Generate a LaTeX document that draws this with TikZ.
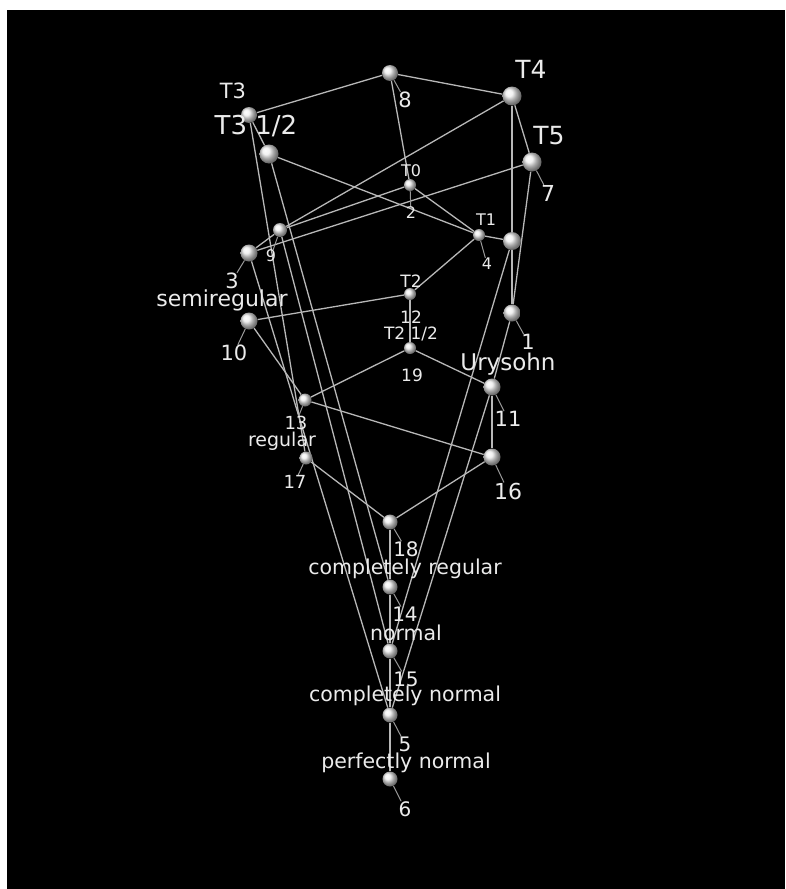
\documentclass[tikz,border=0pt]{standalone}
\usepackage{fontspec}
\setmainfont{DejaVu Sans}
\usetikzlibrary{backgrounds}
\pgfdeclarelayer{edges}
\pgfsetlayers{background,edges,main}
\begin{document}
\begin{tikzpicture}[x=1pt,y=-1pt,
  sph/.style={circle,inner sep=0pt,minimum size=#1,shading=ball,ball color=white!93!black},
  sph/.default=15,
  edge/.style={draw=black!28,line width=1.3pt},
  lead/.style={draw=black!40,line width=1pt},
  lab/.style={text=white!92!black,inner sep=0pt,font=\fontsize{#1}{#1}\selectfont},
]
\useasboundingbox (0,0) rectangle (785,889);
\begin{pgfonlayer}{background}
\fill[white] (0,0) rectangle (785,889);
\fill[black] (7,10) rectangle (785,889);
\end{pgfonlayer}

% spheres
\node[sph=16] (n8)   at (390,73) {};
\node[sph=19] (nT4)  at (512,96) {};
\node[sph=16] (nT3)  at (249,115) {};
\node[sph=19] (nT3h) at (269,154) {};
\node[sph=19] (nT5)  at (532,162) {};
\node[sph=12] (nT0)  at (410,185) {};
\node[sph=12] (nT1)  at (479,235) {};
\node[sph=18] (nX)   at (512,241) {};
\node[sph=14] (n9)   at (280,230) {};
\node[sph=17] (n3)   at (249,253) {};
\node[sph=12] (nT2)  at (410,294) {};
\node[sph=17] (n10)  at (249,321) {};
\node[sph=17] (n1)   at (512,313) {};
\node[sph=12] (nT2h) at (410,348) {};
\node[sph=17] (n11)  at (492,387) {};
\node[sph=13] (n13)  at (305,400) {};
\node[sph=13] (n17)  at (306,458) {};
\node[sph=17] (n16)  at (492,457) {};
\node[sph=15] (n18)  at (390,522) {};
\node[sph=15] (n14)  at (390,587) {};
\node[sph=15] (n15)  at (390,651) {};
\node[sph=15] (n5)   at (390,715) {};
\node[sph=15] (n6)   at (390,779) {};

% name labels
\node[lab=21] (tT3)  at (233,91) {T3};
\node[lab=26] (tT3h) at (256,126) {T3 1/2};
\node[lab=25] (tT4)  at (531,69) {T4};
\node[lab=25] (tT5)  at (549,136) {T5};
\node[lab=16] (tT0)  at (411,171) {T0};
\node[lab=16] (tT1)  at (486,220) {T1};
\node[lab=17] (tT2)  at (411,281) {T2};
\node[lab=17] (tT2h) at (411,334) {T2 1/2};
\node[lab=22] (tsemi) at (222,300) {semiregular};
\node[lab=23] (tUry) at (508,364) {Urysohn};
\node[lab=19] (treg) at (282,441) {regular};
\node[lab=20.5] (tcreg) at (405,569) {completely regular};
\node[lab=20.5] (tnorm) at (406,633) {normal};
\node[lab=20.5] (tcnorm) at (405,696) {completely normal};
\node[lab=20.5] (tpnorm) at (406,763) {perfectly normal};

% number labels
\node[lab=21] (l8)  at (405,100) {8};
\node[lab=22] (l7)  at (548,193) {7};
\node[lab=16] (l2)  at (411,213) {2};
\node[lab=16] (l4)  at (487,264) {4};
\node[lab=16] (l9)  at (271,256) {9};
\node[lab=21] (l3)  at (232,281) {3};
\node[lab=21] (l10) at (234,353) {10};
\node[lab=17] (l12) at (411,317) {12};
\node[lab=17] (l19) at (412,375) {19};
\node[lab=21] (l1)  at (528,342) {1};
\node[lab=21] (l11) at (508,419) {11};
\node[lab=18] (l13) at (296,423) {13};
\node[lab=18] (l17) at (295,482) {17};
\node[lab=22] (l16) at (508,491) {16};
\node[lab=20] (l18) at (406,549) {18};
\node[lab=20] (l14) at (405,614) {14};
\node[lab=20] (l15) at (406,679) {15};
\node[lab=20] (l5)  at (405,744) {5};
\node[lab=20] (l6)  at (405,809) {6};

\begin{pgfonlayer}{edges}
\draw[edge] (nT3) -- (n8);
\draw[edge] (n8) -- (nT4);
\draw[edge] (n8) -- (nT0);
\draw[edge] (nT4) -- (nT5);
\draw[edge] (nT4) -- (nX);
\draw[edge] (nX) -- (n1);
\draw[edge] (nT4) -- (n9);
\draw[edge] (nT5) -- (n3);
\draw[edge] (nT5) -- (n1);
\draw[edge] (nT0) -- (n9);
\draw[edge] (nT0) -- (nT1);
\draw[edge] (nT3h) -- (nT1);
\draw[edge] (nT1) -- (nX);
\draw[edge] (nT1) -- (nT2);
\draw[edge] (nT2) -- (n10);
\draw[edge] (nT2) -- (nT2h);
\draw[edge] (nT2h) -- (n11);
\draw[edge] (nT2h) -- (n13);
\draw[edge] (n13) -- (n16);
\draw[edge] (n10) -- (n13);
\draw[edge] (n11) -- (n16);
\draw[edge] (n16) -- (n18);
\draw[edge] (n17) -- (n18);
\draw[edge] (n18) -- (n14);
\draw[edge] (n14) -- (n15);
\draw[edge] (n15) -- (n5);
\draw[edge] (n5) -- (n6);
\draw[edge] (nT3) -- (nT3h);
\draw[edge] (n9) -- (n3);
\draw[edge] (nT3) -- (n17);
\draw[edge] (n9) -- (n15);
\draw[edge] (nT3h) -- (n14);
\draw[edge] (n3) -- (n5);
\draw[edge] (nX) -- (n15);
\draw[edge] (n1) -- (n11);
\draw[edge] (n11) -- (n5);
% leaders
\draw[lead] (n8) -- (l8);
\draw[lead] (nT5) -- (l7);
\draw[lead] (nT0) -- (l2);
\draw[lead] (nT1) -- (l4);
\draw[lead] (n9) -- (l9);
\draw[lead] (n3) -- (l3);
\draw[lead] (n10) -- (l10);
\draw[lead] (n1) -- (l1);
\draw[lead] (n11) -- (l11);
\draw[lead] (n13) -- (l13);
\draw[lead] (n17) -- (l17);
\draw[lead] (n16) -- (l16);
\draw[lead] (n18) -- (l18);
\draw[lead] (n14) -- (l14);
\draw[lead] (n15) -- (l15);
\draw[lead] (n5) -- (l5);
\draw[lead] (n6) -- (l6);
\end{pgfonlayer}
\end{tikzpicture}
\end{document}
